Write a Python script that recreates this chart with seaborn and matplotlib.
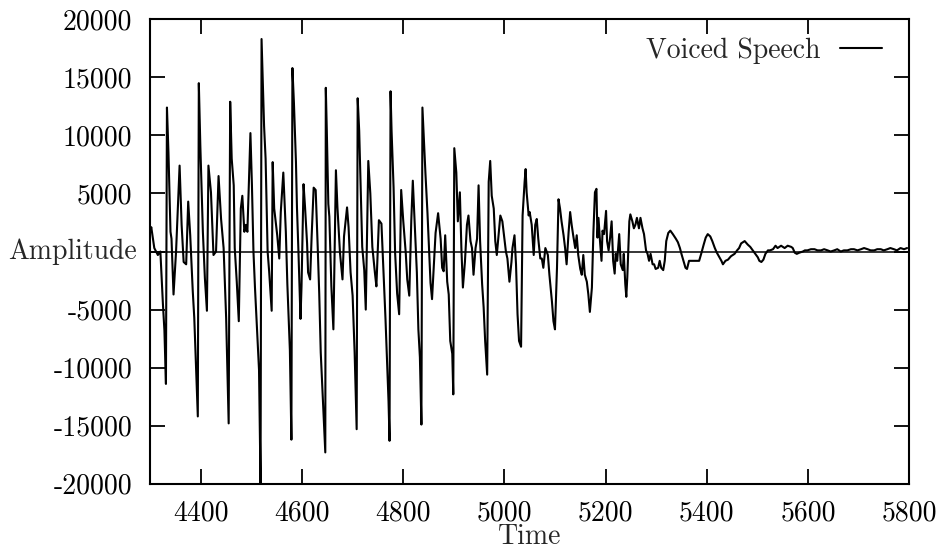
import matplotlib
matplotlib.use('Agg')
import matplotlib.pyplot as plt
import pandas as pd
import seaborn as sns

# waveform (sample index, amplitude)
time = [
    4300, 4302, 4308, 4315, 4320, 4325, 4328, 4331, 4333, 4336, 4340, 4342, 4346, 4351, 4358, 4362,
    4366, 4371, 4375, 4379, 4384, 4387, 4394, 4396, 4399, 4404, 4408, 4412, 4415, 4420, 4425, 4430,
    4435, 4440, 4445, 4450, 4455, 4458, 4461, 4465, 4467, 4471, 4475, 4479, 4482, 4486, 4489, 4492,
    4498, 4501, 4504, 4507, 4511, 4515, 4518, 4520, 4525, 4528, 4532, 4535, 4540, 4542, 4545, 4551,
    4555, 4558, 4563, 4568, 4571, 4576, 4579, 4581, 4584, 4588,
    4590, 4593, 4597, 4599, 4603, 4606, 4610, 4612, 4616, 4619, 4623, 4627, 4631, 4634, 4637, 4643,
    4646, 4647, 4649, 4652, 4654, 4658, 4662, 4667, 4670, 4675, 4680, 4683, 4689, 4692, 4696, 4700,
    4704, 4708, 4710, 4713, 4716, 4719, 4723, 4726, 4731, 4735, 4739, 4744, 4747, 4752, 4757, 4761,
    4765, 4771, 4773, 4775, 4777, 4781, 4784, 4788, 4792, 4796, 4800, 4805, 4808, 4812, 4816, 4819,
    4823, 4827, 4830, 4833, 4836, 4838, 4841, 4844, 4848, 4851, 4854, 4857, 4864, 4869,
    4874, 4877, 4880, 4883, 4887, 4890, 4893, 4897, 4899, 4901, 4905, 4908, 4912, 4915, 4918, 4922,
    4926, 4929, 4933, 4936, 4939, 4943, 4946, 4949, 4952, 4956, 4959, 4962, 4966, 4969, 4972, 4975,
    4979, 4982, 4985, 4989, 4992, 4996, 5000, 5003, 5006, 5010, 5014, 5016, 5020, 5023, 5026, 5029,
    5033, 5036, 5040, 5042, 5044, 5048, 5050, 5054, 5058, 5061, 5064, 5067, 5071, 5074, 5077, 5081,
    5086, 5089, 5094, 5097, 5100, 5104, 5107, 5110, 5113, 5117, 5120, 5123, 5127, 5130, 5133, 5136,
    5140, 5143, 5146, 5150, 5153, 5156, 5159, 5163, 5166, 5169, 5173, 5176, 5179, 5182,
    5184, 5186, 5189, 5192, 5194, 5197, 5201, 5203, 5206, 5209, 5212, 5215, 5218, 5220, 5223, 5227,
    5230, 5234, 5236, 5239, 5241, 5243, 5247, 5249, 5253, 5256, 5259, 5262, 5266, 5269, 5273, 5276,
    5280, 5283, 5286, 5289, 5293, 5296, 5299, 5304, 5307, 5310, 5314, 5317, 5320, 5324, 5328, 5333,
    5339, 5343, 5347, 5350, 5354, 5358, 5361, 5365, 5368, 5373, 5379, 5385, 5389, 5394, 5398, 5402,
    5407, 5411, 5416, 5420, 5425, 5429, 5432, 5437, 5442, 5448, 5455, 5460, 5464, 5468, 5475, 5481,
    5486, 5491, 5496, 5501, 5504, 5508, 5512, 5516, 5521, 5525, 5531, 5536, 5540, 5547, 5554, 5560,
    5567, 5570, 5574, 5578, 5583, 5590, 5594, 5599, 5606, 5613, 5619, 5626, 5632, 5639, 5645, 5652,
    5658, 5665, 5671, 5678, 5685, 5691, 5698, 5705, 5711, 5718, 5724, 5731, 5737, 5744, 5750, 5757,
    5763, 5770, 5776, 5783, 5790, 5796,
]
amplitude = [
    1700, 2100, 300, -300, 0, -4500, -6800, -11400, 12400, 8500, 1700, 1100, -3700, 0, 7400, 2300,
    -900, -1100, 4300, 1400, -3400, -5700, -14200, 14500, 9100, 1700, -2300, -5100, 7400, 5100, -300, 0,
    6500, 2800, 300, -5700, -14800, 12900, 8000, 5700, 300, -2600, -6000, 3700, 4800, 1700, 2300, 1700,
    10200, 5700, 0, -3100, -6700, -10200, -20000, 18300, 10800, 8000, 0, -1700, -5100, 7700, 3700, 1400,
    -600, 3400, 6800, 1700, -2800, -8500, -16200, 15800, 12800, 7700,
    3800, -100, -5800, -3000, 5800, 3800, 700, -1800, -2400, 1300, 5500, 5300, 400, -3600, -8700, -14300,
    -17300, 14100, 10400, 4100, 3000, -3000, -6700, 7000, 3800, -100, -2400, 1300, 3800, 2100, -1800, -3800,
    -8700, -15300, 13200, 10400, 5500, 400, -1600, -5000, 7800, 5000, 400, -1800, -3000, 2700, 2400, -1800,
    -5800, -12900, -16300, 13800, 10400, 5500, -100, -3600, -5400, 5300, 2700, -100, -2400, -3800, 2700, 6100,
    2100, -1800, -6700, -9100, -14900, 12400, 9500, 6700, 3300, 400, -2700, -4100, 1600, 3300,
    1100, -1400, -1700, 1400, -2600, -3700, -7700, -8800, -12300, 8900, 6800, 2600, 5100, 300, -3100, -900,
    2300, 3100, 900, 300, -2000, 300, 1100, 5700, 900, -2800, -4800, -7700, -10600, 6000, 7800, 4800,
    3700, 900, -300, 1700, 3100, 2600, 1100, 0, -600, -2600, -900, 300, 1400, -1100, -5400, -7700,
    -8200, 3100, 6000, 7100, 5100, 3100, 3400, 2300, -300, 2300, 2800, 1100, -600, -600, -1400, 300,
    -300, -2000, -4300, -6000, -6700, -1400, 4500, 3700, 2600, 1400, 300, -1100, 1700, 3400, 2300, 1400,
    300, 1400, -300, -1500, -2000, -300, -2000, -2600, -3700, -5200, -3100, 1700, 5100, 5400,
    1200, 2900, 900, -800, 1800, 1500, 3500, 900, 100, 1200, 2600, -800, -1900, -200, -800, 1500,
    -1100, -1600, -200, -2800, -3900, -2200, 2600, 3200, 2600, 2000, 2300, 2900, 2000, 2900, 2000, 1500,
    100, -200, -800, -200, -1100, -1100, -1500, -1400, -800, -1400, -1600, -800, 900, 1600, 1800, 1500,
    1100, 800, 300, -200, -800, -1400, -1500, -800, -800, -800, -800, -800, -200, 600, 1200, 1500,
    1300, 900, 300, -100, -500, -800, -1100, -800, -700, -400, -200, 100, 300, 700, 900, 600,
    400, 100, -200, -500, -800, -900, -700, -200, 100, 100, 200, 500, 300, 500, 300, 500,
    400, 300, -100, -200, -100, 0, 100, 100, 200, 200, 100, 100, 200, 100, 0, 100,
    200, 0, 100, 100, 200, 200, 100, 200, 300, 200, 100, 100, 200, 200, 100, 200,
    300, 200, 100, 300, 200, 300,
]

x_ticks = [4400, 4600, 4800, 5000, 5200, 5400, 5600, 5800]
y_ticks = [-20000, -15000, -10000, -5000, 0, 5000, 10000, 15000, 20000]
y_tick_labels = ['-20000', '-15000', '-10000', '-5000', '', '5000', '10000', '15000', '20000']

df = pd.DataFrame({'Time': time, 'Amplitude': amplitude})

sns.set_style('ticks')
plt.rcParams['font.family'] = ['cmr10', 'DejaVu Serif']
plt.rcParams['axes.unicode_minus'] = False
fs = 20

fig = plt.figure(figsize=(9.45, 5.51), dpi=100)
ax = fig.add_axes([0.159, 0.122, 0.803, 0.843])

sns.lineplot(data=df, x='Time', y='Amplitude', color='black', linewidth=1.5,
             estimator=None, sort=False, ax=ax, label='Voiced Speech')
ax.axhline(0, color='black', linewidth=1.1, zorder=1)

ax.set_xlim(4300, 5800)
ax.set_ylim(-20000, 20000)
ax.set_xticks(x_ticks)
ax.set_xticklabels([str(t) for t in x_ticks])
ax.set_yticks(y_ticks)
ax.set_yticklabels(y_tick_labels)
ax.tick_params(direction='in', length=11, width=1.3, top=True, right=True,
               labelsize=fs, colors='black')
ax.tick_params(axis='y', pad=13)
ax.tick_params(axis='x', pad=12)
for s in ax.spines.values():
    s.set_linewidth(1.5)
    s.set_color('black')

ax.set_xlabel('Time', fontsize=fs, labelpad=-2)
ax.set_ylabel('Amplitude', fontsize=fs, rotation=0, ha='right', va='center')
ax.yaxis.set_label_coords(-0.018, 0.5)

ax.legend(loc='center right', bbox_to_anchor=(0.964, 0.933), frameon=False,
          markerfirst=False, fontsize=fs, handlelength=1.5, handletextpad=0.7,
          borderpad=0, borderaxespad=0)

fig.savefig('out.png', dpi=100)
